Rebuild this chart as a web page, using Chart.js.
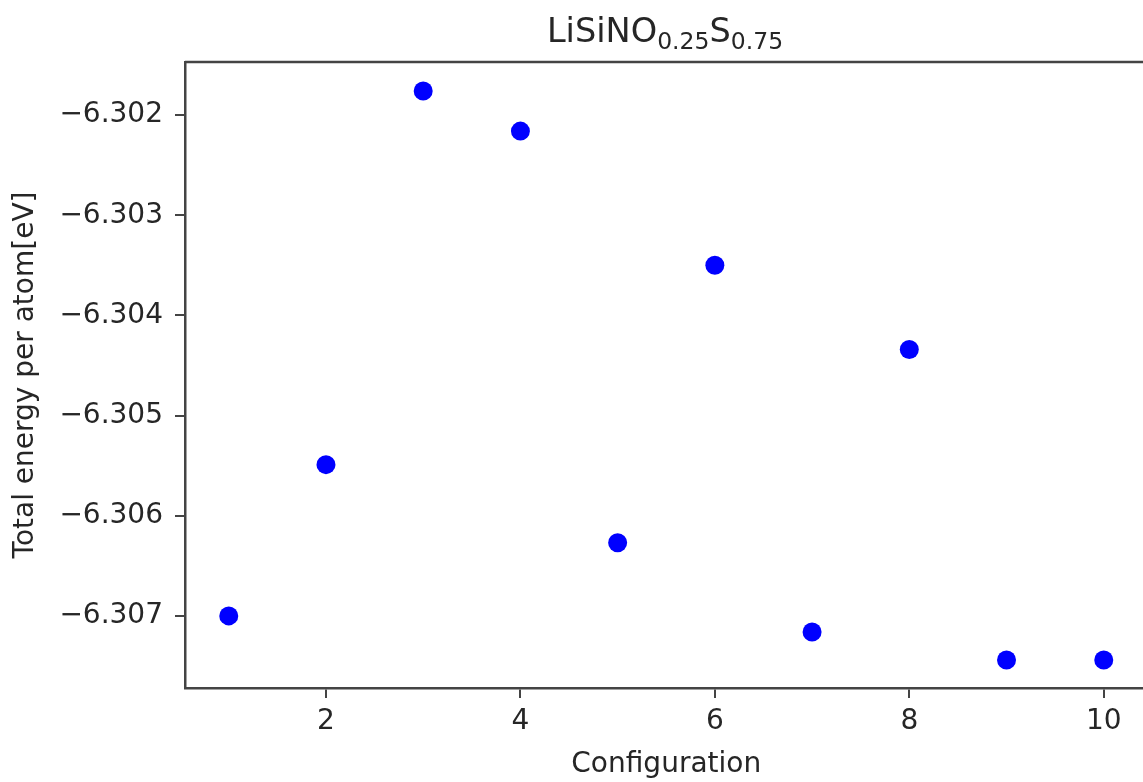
<!DOCTYPE html>
<html lang="en">
<head>
    <meta charset="utf-8">
    <title>LiSiNO0.25S0.75</title>
    <script src="https://cdn.jsdelivr.net/npm/chart.js"></script>
    <style>
        html, body { margin: 0; padding: 0; overflow: hidden; background: #fff; }
        #wrap { position: relative; width: 1157px; height: 782px; }
        #title {
            position: absolute; left: 465px; width: 400px; top: 14px;
            text-align: center; font-family: "DejaVu Sans", sans-serif;
            font-size: 33.6px; line-height: 34px; color: #262626;
        }
        #title sub { font-size: 0.7em; vertical-align: -0.28em; line-height: 0; }
    </style>
</head>
<body>
    <div id="wrap">
        <canvas id="energyChart" width="1157" height="782"></canvas>
        <div id="title">LiSiNO<sub>0.25</sub>S<sub>0.75</sub></div>
    </div>

    <script>
        // data
        const configurations = [1, 2, 3, 4, 5, 6, 7, 8, 9, 10];
        const energies = [-6.30700, -6.30549, -6.30176, -6.30216, -6.30627,
                          -6.30350, -6.30716, -6.30434, -6.30744, -6.30744];
        const xTickValues = [2, 4, 6, 8, 10];
        const yTickValues = [-6.307, -6.306, -6.305, -6.304, -6.303, -6.302];

        const axisColor = '#444';
        const textColor = '#262626';
        const fontFamily = '"DejaVu Sans", sans-serif';

        // top/right spines like matplotlib
        const frame = {
            id: 'frame',
            afterDraw(chart) {
                const a = chart.chartArea, c = chart.ctx;
                c.save();
                c.strokeStyle = axisColor;
                c.lineWidth = 2.5;
                c.beginPath();
                c.moveTo(a.left, a.top);
                c.lineTo(a.right, a.top);
                c.lineTo(a.right, a.bottom);
                c.stroke();
                c.restore();
            }
        };

        const ctx = document.getElementById('energyChart').getContext('2d');
        new Chart(ctx, {
            type: 'scatter',
            data: {
                datasets: [{
                    label: 'Total energy',
                    data: configurations.map((c, i) => ({ x: c, y: energies[i] })),
                    backgroundColor: '#0000ff',
                    borderColor: '#0000ff',
                    pointRadius: 9.5,
                    pointHoverRadius: 9.5,
                    borderWidth: 0
                }]
            },
            options: {
                responsive: false,
                animation: false,
                devicePixelRatio: 1,
                layout: { padding: { top: 62, left: 0, right: 0, bottom: 0 } },
                plugins: {
                    legend: { display: false },
                    tooltip: { enabled: false }
                },
                scales: {
                    x: {
                        type: 'linear',
                        min: 0.55,
                        max: 10.45,
                        afterFit: s => { s.height = 94; },
                        afterBuildTicks: s => { s.ticks = xTickValues.map(v => ({ value: v })); },
                        border: { color: axisColor, width: 2.5 },
                        grid: { drawOnChartArea: false, drawTicks: true, tickLength: 10, color: axisColor, lineWidth: 2 },
                        ticks: {
                            color: textColor, padding: 7,
                            font: { family: fontFamily, size: 28 }
                        },
                        title: {
                            display: true, text: 'Configuration', color: textColor,
                            padding: { top: 0, bottom: 0 },
                            font: { family: fontFamily, size: 28 }
                        }
                    },
                    y: {
                        type: 'linear',
                        min: -6.30772,
                        max: -6.30147,
                        afterFit: s => { s.width = 185; },
                        afterBuildTicks: s => { s.ticks = yTickValues.map(v => ({ value: v })); },
                        border: { color: axisColor, width: 2.5 },
                        grid: { drawOnChartArea: false, drawTicks: true, tickLength: 10, color: axisColor, lineWidth: 2 },
                        ticks: {
                            color: textColor, padding: 12,
                            font: { family: fontFamily, size: 28 },
                            callback: v => '\u2212' + Math.abs(v).toFixed(3)
                        },
                        title: {
                            display: true, text: 'Total energy per atom[eV]', color: textColor,
                            padding: { top: 9, bottom: 0 },
                            font: { family: fontFamily, size: 28 }
                        }
                    }
                }
            },
            plugins: [frame]
        });
    </script>
</body>
</html>
